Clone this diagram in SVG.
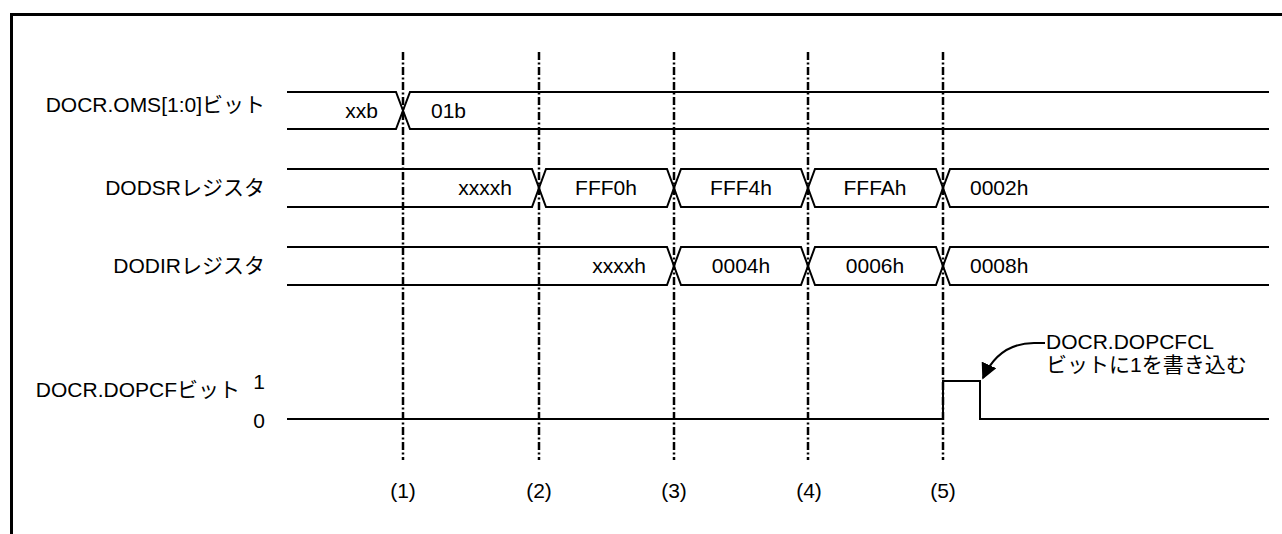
<svg xmlns="http://www.w3.org/2000/svg" width="1282" height="534" viewBox="0 0 1282 534">
<defs>
<style>
text{font-family:"Liberation Sans","Noto Sans CJK JP",sans-serif;font-size:21px;fill:#000}
.sig{fill:none;stroke:#000;stroke-width:2}
.dl{fill:none;stroke:#000;stroke-width:2.5;stroke-dasharray:8 2.5 2 2.5}
.mid{text-anchor:middle}
.end{text-anchor:end}
</style>
<marker id="ah" viewBox="0 0 10 10" refX="9" refY="5" markerWidth="16" markerHeight="16" markerUnits="userSpaceOnUse" orient="auto">
<path d="M0,0 L10,5 L0,10 Z" fill="#000"/>
</marker>
</defs>
<rect width="1282" height="534" fill="#fff"/>
<path d="M11.5,534 V14.5 H1282" fill="none" stroke="#000" stroke-width="3"/>

<g id="connectors">
<line class="dl" x1="403" y1="52" x2="403" y2="460"/>
<line class="dl" x1="539" y1="52" x2="539" y2="460"/>
<line class="dl" x1="674" y1="52" x2="674" y2="460"/>
<line class="dl" x1="808" y1="52" x2="808" y2="460"/>
<line class="dl" x1="943" y1="52" x2="943" y2="460"/>
<path d="M1045,343 H1034 C1012,343 994,354 983,378" fill="none" stroke="#000" stroke-width="2" marker-end="url(#ah)"/>
</g>

<g id="row-oms">
<text class="end" x="265" y="112">DOCR.OMS[1:0]ビット</text>
<path class="sig" d="M287,92 H396 L410,129 H1269 M287,129 H396 L410,92 H1269"/>
<text class="end" x="378" y="118">xxb</text>
<text x="431" y="118">01b</text>
</g>

<g id="row-dodsr">
<text class="end" x="265" y="195">DODSRレジスタ</text>
<path class="sig" d="M287,169 H532 L546,207 H667 L681,169 H801 L815,207 H936 L950,169 H1269 M287,207 H532 L546,169 H667 L681,207 H801 L815,169 H936 L950,207 H1269"/>
<text class="end" x="512" y="195">xxxxh</text>
<text class="mid" x="606" y="195">FFF0h</text>
<text class="mid" x="741" y="195">FFF4h</text>
<text class="mid" x="875" y="195">FFFAh</text>
<text x="970" y="195">0002h</text>
</g>

<g id="row-dodir">
<text class="end" x="265" y="273">DODIRレジスタ</text>
<path class="sig" d="M287,247 H667 L681,285 H801 L815,247 H936 L950,285 H1269 M287,285 H667 L681,247 H801 L815,285 H936 L950,247 H1269"/>
<text class="end" x="646" y="273">xxxxh</text>
<text class="mid" x="741" y="273">0004h</text>
<text class="mid" x="875" y="273">0006h</text>
<text x="970" y="273">0008h</text>
</g>

<g id="row-dopcf">
<text class="end" x="240" y="397">DOCR.DOPCFビット</text>
<text class="end" x="265" y="389">1</text>
<text class="end" x="265" y="428">0</text>
<path class="sig" d="M287,419 H943 V381 H980 V419 H1269"/>
</g>

<g id="callout">
<text x="1046" y="349">DOCR.DOPCFCL</text>
<text x="1046" y="372">ビットに1を書き込む</text>
</g>

<g id="labels">
<text class="mid" x="403" y="498">(1)</text>
<text class="mid" x="539" y="498">(2)</text>
<text class="mid" x="674" y="498">(3)</text>
<text class="mid" x="809" y="498">(4)</text>
<text class="mid" x="943" y="498">(5)</text>
</g>
</svg>
